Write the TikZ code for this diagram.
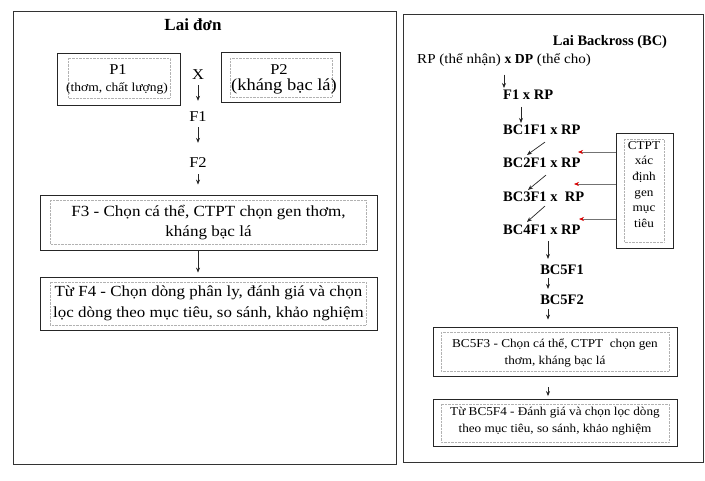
\documentclass[tikz,border=0pt]{standalone}
\usepackage{fontspec}
\setmainfont{Liberation Serif}[UprightFeatures={FakeStretch=1.1}]
\usetikzlibrary{arrows.meta}
\begin{document}
\begin{tikzpicture}[x=1pt,y=-1pt,
  panel/.style={draw=black!80, line width=0.8pt},
  outerbox/.style={draw=black!85, line width=0.8pt, inner sep=0pt, align=center},
  innerbox/.style={draw=black!30, line width=0.4pt, densely dotted},
  arr/.style={draw=black!85, line width=0.7pt, -{Stealth[length=5pt,width=4pt]}},
  redarr/.style={draw=black!55, line width=0.6pt, -{Stealth[length=5pt,width=4pt,color=red!85!black]}},
  lbl/.style={inner sep=0pt, font=\fontsize{15}{17}\selectfont},
  bclbl/.style={inner sep=0pt, font=\fontsize{14.5}{17}\selectfont\bfseries},
]
\useasboundingbox (0,0) rectangle (705,480);
\fill[white] (0,0) rectangle (705,480);

% ---------- panels ----------
\draw[panel] (13,11) rectangle (396,464);
\draw[panel] (403,14) rectangle (703,462);

% ---------- Lai don ----------
\node[inner sep=0pt, font=\fontsize{17}{19}\selectfont\bfseries] (titleL) at (193,25) {Lai đơn};

\node[outerbox, minimum width=123pt, minimum height=52pt] (p1) at (118.5,79) {};
\draw[innerbox] (68,58) rectangle (170,98);
\node[lbl] (p1a) at (118,70) {P1};
\node[inner sep=0pt, font=\fontsize{12.3}{14}\selectfont] (p1b) at (117,88) {(thơm, chất lượng)};

\node[outerbox, minimum width=119pt, minimum height=50pt] (p2) at (280.5,77) {};
\draw[innerbox] (230,58) rectangle (332,97);
\node[lbl] (p2a) at (279,70) {P2};
\node[inner sep=0pt, font=\fontsize{16.8}{19}\selectfont] (p2b) at (284,86) {(kháng bạc lá)};

\node[lbl] (xx) at (198,75) {X};
\node[lbl] (f1) at (198,117) {F1};
\node[lbl] (f2) at (198,163) {F2};

\node[outerbox, minimum width=337pt, minimum height=55pt, font=\fontsize{15.5}{20}\selectfont] (f3) at (208.5,222.5)
  {F3 - Chọn cá thể, CTPT chọn gen thơm,\\ kháng bạc lá};
\draw[innerbox] (50,200) rectangle (366,244);

\node[outerbox, minimum width=337pt, minimum height=53pt, font=\fontsize{15.4}{21}\selectfont] (f4) at (208.5,303.5)
  {Từ F4 - Chọn dòng phân ly, đánh giá và chọn\\ lọc dòng theo mục tiêu, so sánh, khảo nghiệm};
\draw[innerbox] (50,282) rectangle (366,325);

\draw[arr, shorten <=5pt, shorten >=11pt] (xx) -- (f1);
\draw[arr, shorten <=5pt, shorten >=15pt] (f1) -- (f2);
\draw[arr, shorten <=6pt, shorten >=10pt] (f2) -- (f2 |- f3.north);
\draw[arr, shorten >=4pt] (f3.south -| f2) -- (f2 |- f4.north);

% ---------- Lai Backcross ----------
\node[inner sep=0pt, font=\fontsize{14.5}{17}\selectfont\bfseries] (titleR) at (610,42) {Lai Backross (BC)};

\node[inner sep=0pt, anchor=west, font=\fontsize{13.7}{16}\selectfont] (rpdp) at (417,60)
  {RP (thể nhận) \textbf{x DP} (thể cho)};

\node[bclbl, anchor=west] (f1rp) at (503,95) {F1 x RP};
\node[bclbl, anchor=west] (bc1) at (503,130) {BC1F1 x RP};
\node[bclbl, anchor=west] (bc2) at (503,163) {BC2F1 x RP};
\node[bclbl, anchor=west] (bc3) at (503,197) {BC3F1 x\ \ RP};
\node[bclbl, anchor=west] (bc4) at (503,230) {BC4F1 x RP};
\node[bclbl] (bc5f1) at (562,270) {BC5F1};
\node[bclbl] (bc5f2) at (562,300) {BC5F2};

\coordinate (c1) at (504,0);
\coordinate (c1b) at (521,0);
\draw[arr] ([yshift=-8pt]rpdp.south -| c1) -- ([yshift=2pt]f1rp.north -| c1);
\draw[arr] ([yshift=-7pt]f1rp.south -| c1b) -- ([yshift=2pt]bc1.north -| c1b);
\draw[arr] ([xshift=42pt,yshift=-7pt]bc1.south west) -- ([xshift=24pt,yshift=3pt]bc2.north west);
\draw[arr] ([xshift=43pt,yshift=-7pt]bc2.south west) -- ([xshift=25pt,yshift=2pt]bc3.north west);
\draw[arr] ([xshift=42pt,yshift=-4pt]bc3.south west) -- ([xshift=24pt,yshift=3pt]bc4.north west);

\coordinate (c2) at (548,0);
\draw[arr] ([yshift=-6pt]bc4.south -| c2) -- ([yshift=6pt]bc5f1.north -| c2);
\draw[arr] ([yshift=-3pt]bc5f1.south -| c2) -- ([yshift=6pt]bc5f2.north -| c2);

\node[outerbox, minimum width=244pt, minimum height=49pt] (bc5f3) at (555,351.5) {};
\draw[innerbox] (441,332) rectangle (669,371);
\node[inner sep=0pt, align=center, font=\fontsize{12}{17}\selectfont] (bc5f3t) at (555,353)
  {BC5F3 - Chọn cá thể, CTPT\ \ chọn gen\\ thơm, kháng bạc lá};

\node[outerbox, minimum width=244pt, minimum height=47pt] (bc5f4) at (555,423) {};
\draw[innerbox] (441,404) rectangle (669,442);
\node[inner sep=0pt, align=center, font=\fontsize{12}{17}\selectfont] (bc5f4t) at (555,421.5)
  {Từ BC5F4 - Đánh giá và chọn lọc dòng\\ theo mục tiêu, so sánh, khảo nghiệm};

\draw[arr, shorten <=4pt, shorten >=7pt] (bc5f2.south -| c2) -- (bc5f3.north -| c2);
\draw[arr, shorten <=11pt, shorten >=3pt] (bc5f3.south -| c2) -- (bc5f4.north -| c2);

% CTPT box
\node[outerbox, minimum width=57pt, minimum height=115pt] (ctpt) at (644.5,190.5) {};
\draw[innerbox] (624,139) rectangle (664,242);
\node[inner sep=0pt, align=center, font=\fontsize{12}{15.7}\selectfont, anchor=north] (ctpttxt) at (644,141)
  {CTPT\\ xác\\ định\\ gen\\ mục\\ tiêu};

\coordinate (r1) at (578,152);
\coordinate (r2) at (574,184);
\coordinate (r3) at (579,219);
\draw[redarr] (ctpt.west |- r1) -- (r1);
\draw[redarr] (ctpt.west |- r2) -- (r2);
\draw[redarr] (ctpt.west |- r3) -- (r3);
\end{tikzpicture}
\end{document}
